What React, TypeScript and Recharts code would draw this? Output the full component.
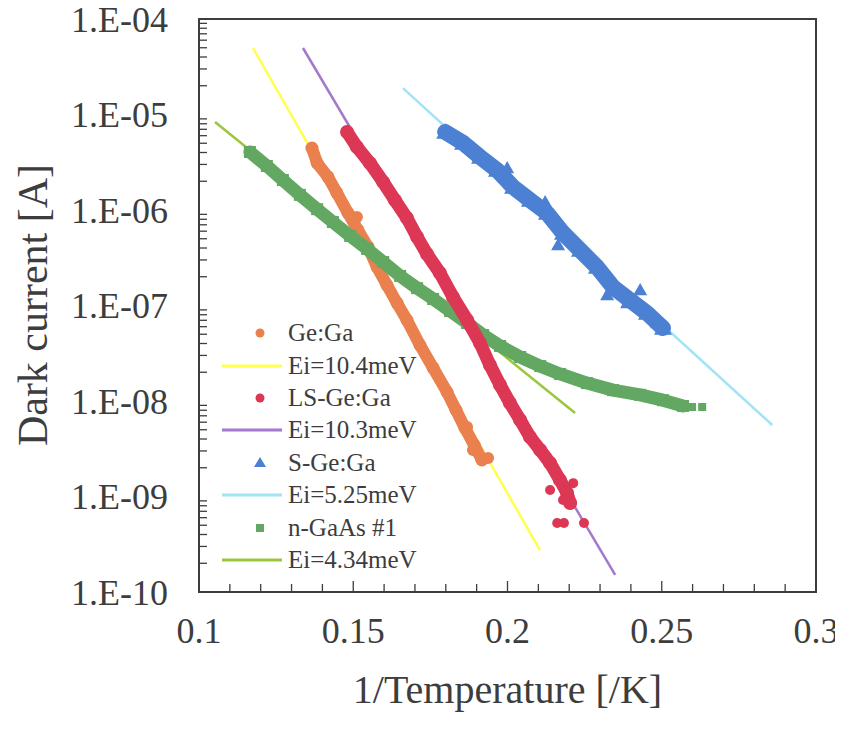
import React from 'react';
import { ScatterChart, Scatter, XAxis, YAxis, ReferenceArea, Legend, Label } from 'recharts';

// 1/T values [/K] and dark current [A]
const geGaX = [0.1366, 0.1383, 0.1418, 0.1447, 0.1483, 0.1515, 0.1548, 0.1577, 0.1609, 0.1642, 0.1674, 0.1716, 0.1759, 0.1804, 0.1833, 0.1862, 0.1892, 0.1917];
const geGaY = [4.46e-6, 3.1e-6, 2.22e-6, 1.51e-6, 9.3e-7, 6.18e-7, 4.1e-7, 2.53e-7, 1.64e-7, 1.06e-7, 7.05e-8, 3.86e-8, 2.22e-8, 1.24e-8, 8.05e-9, 5.22e-9, 3.46e-9, 2.41e-9];
const geGaStrayX = [0.1512, 0.1869, 0.1888, 0.1937];
const geGaStrayY = [8.45e-7, 5.35e-9, 3.07e-9, 2.53e-9];

const lsGeGaX = [0.148, 0.1512, 0.1554, 0.1597, 0.1635, 0.1674, 0.1707, 0.1739, 0.1781, 0.1823, 0.1869, 0.1911, 0.1943, 0.1976, 0.2008, 0.2041, 0.2073, 0.2106, 0.2138, 0.217, 0.2193, 0.2203];
const lsGeGaY = [6.56e-6, 4.57e-6, 3.1e-6, 1.96e-6, 1.27e-6, 8.24e-7, 5.21e-7, 3.46e-7, 2.19e-7, 1.23e-7, 7.05e-8, 4.05e-8, 2.38e-8, 1.47e-8, 9.53e-9, 6.32e-9, 4.2e-9, 3.07e-9, 2.24e-9, 1.49e-9, 1.09e-9, 8.55e-10];
const lsGeGaStrayX = [0.2213, 0.2128, 0.2138, 0.218, 0.2161, 0.2183, 0.2248];
const lsGeGaStrayY = [1.38e-9, 2.59e-9, 1.17e-9, 9.18e-10, 5.28e-10, 5.28e-10, 5.28e-10];

const sGeGaX = [0.1798, 0.1856, 0.1911, 0.1966, 0.2018, 0.2073, 0.2128, 0.218, 0.2235, 0.229, 0.2342, 0.2397, 0.2452, 0.2504];
const sGeGaY = [6.56e-6, 5.04e-6, 3.59e-6, 2.62e-6, 1.74e-6, 1.27e-6, 9.3e-7, 5.74e-7, 3.81e-7, 2.53e-7, 1.56e-7, 1.14e-7, 8.34e-8, 5.8e-8];
const sGeGaStrayX = [0.243, 0.1999, 0.2122, 0.2164, 0.2323, 0.2388, 0.2485];
const sGeGaStrayY = [1.45e-7, 2.75e-6, 1.21e-6, 4.3e-7, 1.29e-7, 1.06e-7, 6.56e-8];

const nGaAsX = [0.1165, 0.122, 0.1272, 0.1327, 0.1383, 0.1434, 0.149, 0.1545, 0.1597, 0.1652, 0.1707, 0.1759, 0.1814, 0.1869, 0.1921, 0.1976, 0.2041, 0.2106, 0.217, 0.2258, 0.2342, 0.243, 0.2504, 0.2569];
const nGaAsY = [4.05e-6, 2.89e-6, 2.06e-6, 1.44e-6, 1.02e-6, 7.48e-7, 5.35e-7, 3.91e-7, 2.85e-7, 2.04e-7, 1.52e-7, 1.17e-7, 8.75e-8, 6.56e-8, 4.91e-8, 3.77e-8, 2.89e-8, 2.32e-8, 1.92e-8, 1.54e-8, 1.3e-8, 1.16e-8, 1.02e-8, 8.87e-9];
const nGaAsStrayX = [0.2598, 0.2631];
const nGaAsStrayY = [8.65e-9, 8.65e-9];

// fitted activation lines (end points)
const fit104X = [0.1175, 0.2105];
const fit104Y = [4.97e-5, 2.75e-10];
const fit103X = [0.1337, 0.2349];
const fit103Y = [4.97e-5, 1.51e-10];
const fit525X = [0.1661, 0.2858];
const fit525Y = [1.89e-5, 5.61e-9];
const fit434X = [0.1052, 0.2219];
const fit434Y = [8.34e-6, 7.48e-9];

const xTicks = [0.1, 0.11, 0.12, 0.13, 0.14, 0.15, 0.16, 0.17, 0.18, 0.19, 0.2, 0.21, 0.22, 0.23, 0.24, 0.25, 0.26, 0.27, 0.28, 0.29, 0.3];
const xLabels = [0.1, 0.15, 0.2, 0.25, 0.3];
const yDecades = [1e-10, 1e-9, 1e-8, 1e-7, 1e-6, 1e-5, 1e-4];
const yMinor = [2, 3, 4, 5, 6, 7, 8, 9];
const yTicks = [...yDecades, ...yDecades.slice(0, -1).flatMap((d) => yMinor.map((m) => m * d))].sort((a, b) => a - b);

const zip = (xs: number[], ys: number[]) => xs.map((x, i) => ({ x, y: ys[i] }));

const C = {
  orange: '#E9804E',
  red: '#DC3755',
  blue: '#4C80D2',
  green: '#63A862',
  yellow: '#FFFF4D',
  purple: '#A478CC',
  cyan: '#A0E4F5',
  lime: '#9CC63B',
  ink: '#3d3d3d',
};
const FONT = 'Liberation Serif, Times New Roman, Times, serif';

const circle = (color: string, r = 5) => (p: any) => <circle cx={p.cx} cy={p.cy} r={r} fill={color} />;
const square = (color: string, s = 10) => (p: any) => <rect x={p.cx - s / 2} y={p.cy - s / 2} width={s} height={s} fill={color} />;
const triangle = (color: string, s = 7) => (p: any) => (
  <polygon points={`${p.cx},${p.cy - s} ${p.cx - s},${p.cy + s * 0.75} ${p.cx + s},${p.cy + s * 0.75}`} fill={color} />
);
const none = () => <g />;

const band = (color: string, w = 9) => ({ stroke: color, strokeWidth: w, strokeLinejoin: 'round', strokeLinecap: 'round' });
const fitLine = (color: string) => ({ stroke: color, strokeWidth: 2.5 });

const fmtY = (v: number) => {
  const e = Math.round(Math.log10(v));
  return `1.E${e < 0 ? '-' : '+'}${String(Math.abs(e)).padStart(2, '0')}`;
};

const YTick = (props: any) => {
  const { x, y, payload } = props;
  const v = payload.value;
  const lg = Math.log10(v);
  const isDecade = Math.abs(lg - Math.round(lg)) < 1e-6;
  return (
    <g>
      {!isDecade && <line x1={x} x2={x + 8} y1={y} y2={y} stroke={C.ink} strokeWidth={1.3} />}
      {isDecade && (
        <text x={x - 31} y={y + 12.5} textAnchor="end" fontSize={36} style={{ fontFamily: FONT }} fill={C.ink}>
          {fmtY(v)}
        </text>
      )}
    </g>
  );
};

const XTick = (props: any) => {
  const { x, y, payload } = props;
  const v = payload.value;
  const isLabel = xLabels.some((l) => Math.abs(l - v) < 1e-9);
  return (
    <g>
      <line x1={x} x2={x} y1={y} y2={y - (isLabel ? 11 : 8)} stroke={C.ink} strokeWidth={1.3} />
      {isLabel && (
        <text x={x} y={y + 51} textAnchor="middle" fontSize={36} style={{ fontFamily: FONT }} fill={C.ink}>
          {v}
        </text>
      )}
    </g>
  );
};

const legendItems = [
  { name: 'Ge:Ga', kind: 'circle', color: C.orange },
  { name: 'Ei=10.4meV', kind: 'line', color: C.yellow },
  { name: 'LS-Ge:Ga', kind: 'circle', color: C.red },
  { name: 'Ei=10.3meV', kind: 'line', color: C.purple },
  { name: 'S-Ge:Ga', kind: 'triangle', color: C.blue },
  { name: 'Ei=5.25meV', kind: 'line', color: C.cyan },
  { name: 'n-GaAs #1', kind: 'square', color: C.green },
  { name: 'Ei=4.34meV', kind: 'line', color: C.lime },
];

const LegendBox = () => (
  <div style={{ fontFamily: FONT, fontSize: 25, color: C.ink }}>
    {legendItems.map((it) => (
      <div key={it.name} style={{ display: 'flex', alignItems: 'center', height: 32.4 }}>
        <svg width={62} height={32} style={{ display: 'block' }}>
          {it.kind === 'line' && <line x1={0} x2={60} y1={16} y2={16} stroke={it.color} strokeWidth={3} />}
          {it.kind === 'circle' && <circle cx={38} cy={16} r={4.5} fill={it.color} />}
          {it.kind === 'square' && <rect x={34} y={12} width={8} height={8} fill={it.color} />}
          {it.kind === 'triangle' && <polygon points="38,10 32,20 44,20" fill={it.color} />}
        </svg>
        <span style={{ marginLeft: 4, whiteSpace: 'nowrap' }}>{it.name}</span>
      </div>
    ))}
  </div>
);

const XTitle = (props: any) => {
  const { viewBox } = props;
  return (
    <text x={viewBox.x + viewBox.width / 2} y={viewBox.y + 111} textAnchor="middle" fontSize={40} style={{ fontFamily: FONT }} fill={C.ink}>
      1/Temperature [/K]
    </text>
  );
};

const YTitle = () => (
  <text x={25} y={297} transform="rotate(-90, 25, 297)" textAnchor="middle" dominantBaseline="central" fontSize={42} style={{ fontFamily: FONT }} fill={C.ink}>
    Dark current [A]
  </text>
);

export default function App() {
  return (
    <div style={{ width: 827, height: 715, background: '#fff', fontFamily: FONT }}>
      <style>{`svg.recharts-surface{overflow:visible}`}</style>
      <ScatterChart width={827} height={715} margin={{ top: 11, right: 19, bottom: 0, left: 0 }}>
        <XAxis
          type="number"
          dataKey="x"
          domain={[0.1, 0.3]}
          ticks={xTicks}
          interval={0}
          height={131}
          tickSize={0}
          tickMargin={0}
          tickLine={false}
          axisLine={false}
          tick={<XTick />}
          allowDataOverflow
          label={<Label content={<XTitle />} />}
        />
        <YAxis
          type="number"
          dataKey="y"
          scale="log"
          domain={[1e-10, 1e-4]}
          ticks={yTicks}
          interval={0}
          width={191}
          tickSize={0}
          tickMargin={0}
          tickLine={false}
          axisLine={false}
          tick={<YTick />}
          allowDataOverflow
          label={<Label content={<YTitle />} />}
        />
        <ReferenceArea x1={0.1} x2={0.3} y1={1e-10} y2={1e-4} fill="none" stroke={C.ink} strokeWidth={2} ifOverflow="visible" />

        <Scatter name="Ei=10.4meV" data={zip(fit104X, fit104Y)} line={fitLine(C.yellow)} shape={none} isAnimationActive={false} />
        <Scatter name="Ei=10.3meV" data={zip(fit103X, fit103Y)} line={fitLine(C.purple)} shape={none} isAnimationActive={false} />
        <Scatter name="Ei=5.25meV" data={zip(fit525X, fit525Y)} line={fitLine(C.cyan)} shape={none} isAnimationActive={false} />
        <Scatter name="Ei=4.34meV" data={zip(fit434X, fit434Y)} line={fitLine(C.lime)} shape={none} isAnimationActive={false} />

        <Scatter name="Ge:Ga" data={zip(geGaX, geGaY)} line={band(C.orange, 12)} shape={circle(C.orange, 6.5)} isAnimationActive={false} />
        <Scatter name="Ge:Ga stray" data={zip(geGaStrayX, geGaStrayY)} shape={circle(C.orange, 6)} isAnimationActive={false} />
        <Scatter name="n-GaAs #1" data={zip(nGaAsX, nGaAsY)} line={band(C.green, 13)} shape={square(C.green, 12)} isAnimationActive={false} />
        <Scatter name="n-GaAs stray" data={zip(nGaAsStrayX, nGaAsStrayY)} shape={square(C.green, 8)} isAnimationActive={false} />
        <Scatter name="LS-Ge:Ga" data={zip(lsGeGaX, lsGeGaY)} line={band(C.red, 13)} shape={circle(C.red, 7)} isAnimationActive={false} />
        <Scatter name="LS-Ge:Ga stray" data={zip(lsGeGaStrayX, lsGeGaStrayY)} shape={circle(C.red, 5)} isAnimationActive={false} />
        <Scatter name="S-Ge:Ga" data={zip(sGeGaX, sGeGaY)} line={band(C.blue, 16)} shape={triangle(C.blue, 9)} isAnimationActive={false} />
        <Scatter name="S-Ge:Ga stray" data={zip(sGeGaStrayX, sGeGaStrayY)} shape={triangle(C.blue, 7)} isAnimationActive={false} />

        <Legend
          layout="vertical"
          align="center"
          verticalAlign="middle"
          content={<LegendBox />}
          wrapperStyle={{ left: 214, top: 309, width: 220, right: 'auto', bottom: 'auto' }}
        />
      </ScatterChart>
    </div>
  );
}
